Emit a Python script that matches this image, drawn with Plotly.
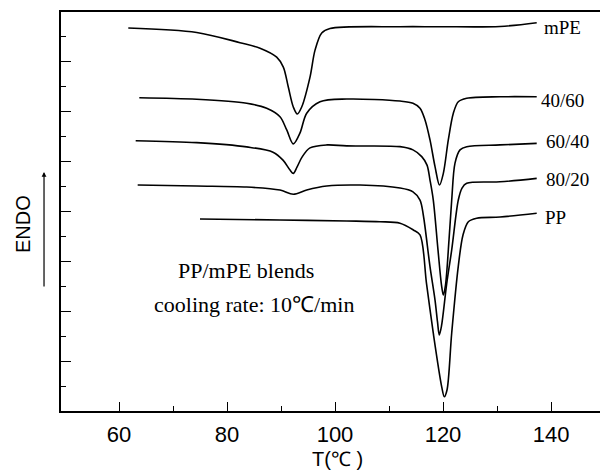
import plotly.graph_objects as go

# DSC cooling curves, T in degC, heat flow in arbitrary (offset) units
mpe_T = [61.72, 74.39, 82.41, 86.11, 89.20, 90.43, 91.35, 92.28, 93.02, 93.83, 95.37, 96.30, 97.54, 99.07, 112.04, 119.44, 130.56, 137.35]
mpe_S = [15.36, 15.18, 14.77, 14.55, 14.19, 13.79, 12.99, 12.19, 11.91, 12.19, 13.39, 14.47, 15.16, 15.34, 15.41, 15.41, 15.42, 15.57]

b4060_T = [63.76, 74.39, 83.65, 87.35, 89.81, 91.06, 92.28, 93.52, 94.76, 97.22, 102.17, 112.04, 114.44, 115.74, 116.67, 117.59, 118.52, 119.35, 120.06, 120.98, 121.91, 122.83, 124.39, 130.56, 137.35]
b4060_S = [12.56, 12.50, 12.34, 12.14, 11.80, 11.27, 10.71, 11.15, 11.94, 12.40, 12.51, 12.43, 12.34, 12.14, 11.67, 10.87, 9.80, 9.06, 9.53, 10.87, 11.94, 12.40, 12.54, 12.60, 12.60]

b6040_T = [63.09, 74.39, 83.65, 88.52, 90.37, 91.67, 92.28, 92.96, 93.89, 95.37, 98.46, 102.17, 112.04, 114.44, 116.06, 117.04, 117.59, 118.20, 119.07, 119.72, 120.06, 120.46, 121.11, 121.61, 122.22, 123.15, 124.39, 130.56, 137.35]
b6040_S = [10.84, 10.76, 10.59, 10.38, 10.06, 9.66, 9.53, 9.78, 10.18, 10.55, 10.67, 10.63, 10.60, 10.47, 10.20, 9.86, 9.26, 8.46, 6.46, 5.05, 4.65, 5.05, 6.86, 8.46, 9.94, 10.47, 10.60, 10.67, 10.73]

b8020_T = [63.46, 74.39, 83.65, 89.81, 92.28, 94.76, 98.46, 104.63, 112.04, 114.44, 115.74, 116.35, 117.59, 118.52, 118.98, 119.31, 119.72, 120.69, 121.61, 122.83, 123.52, 124.39, 130.56, 137.35]
b8020_S = [9.06, 9.02, 8.98, 8.86, 8.69, 8.86, 9.02, 9.06, 8.94, 8.79, 8.46, 7.86, 5.79, 4.45, 3.57, 3.05, 3.41, 5.12, 6.46, 8.46, 8.94, 9.13, 9.19, 9.33]

pp_T = [75.0, 89.81, 102.17, 108.33, 112.04, 114.5, 115.74, 116.94, 118.20, 119.76, 120.24, 120.74, 121.61, 122.83, 123.70, 124.69, 126.24, 130.56, 137.35]
pp_S = [7.70, 7.66, 7.62, 7.59, 7.53, 7.26, 7.06, 5.12, 3.12, 0.97, 0.57, 0.84, 3.13, 5.81, 7.06, 7.59, 7.73, 7.78, 7.93]

curves = [
    ("mPE", mpe_T, mpe_S),
    ("40/60", b4060_T, b4060_S),
    ("60/40", b6040_T, b6040_S),
    ("80/20", b8020_T, b8020_S),
    ("PP", pp_T, pp_S),
]

# label anchor positions (T, S) to the right of each curve
label_names = ["mPE", "40/60", "60/40", "80/20", "PP"]
label_T = [138.3, 137.8, 138.7, 138.7, 138.5]
label_S = [15.36, 12.45, 10.8, 9.28, 7.75]

x_major = [60, 80, 100, 120, 140]
x_minor = [70, 90, 110, 130]
y_major = [2, 4, 6, 8, 10, 12, 14]
y_minor = [1, 3, 5, 7, 9, 11, 13, 15]

fig = go.Figure()
for name, t, s in curves:
    fig.add_trace(go.Scatter(x=t, y=s, mode="lines", name=name,
                             line=dict(color="black", width=1.6, shape="spline", smoothing=0.9),
                             showlegend=False, hoverinfo="skip"))

serif = "Liberation Serif, Times New Roman, serif"
sans = "Liberation Sans, Arial, sans-serif"

annotations = []
for n, t, s in zip(label_names, label_T, label_S):
    annotations.append(dict(x=t, y=s, xref="x", yref="y", text=n, showarrow=False,
                            xanchor="left", yanchor="middle",
                            font=dict(family=serif, size=19, color="black")))
annotations.append(dict(x=83.6, y=5.62, xref="x", yref="y", text="PP/mPE blends", showarrow=False,
                        xanchor="center", yanchor="middle",
                        font=dict(family=serif, size=22, color="black")))
annotations.append(dict(x=85.0, y=4.27, xref="x", yref="y", text="cooling rate: 10℃/min", showarrow=False,
                        xanchor="center", yanchor="middle",
                        font=dict(family=serif, size=22, color="black")))
annotations.append(dict(x=0.5121, y=-0.1203, xref="paper", yref="paper", text="T(℃ )", showarrow=False,
                        xanchor="center", yanchor="middle",
                        font=dict(family=sans, size=20, color="black")))
annotations.append(dict(x=-0.0705, y=0.4687, xref="paper", yref="paper", text="ENDO", showarrow=False,
                        textangle=-90, xanchor="center", yanchor="middle",
                        font=dict(family=sans, size=20, color="black")))
annotations.append(dict(x=-0.0315, y=0.599, xref="paper", yref="paper", text="", showarrow=True,
                        ax=0, ay=116, axref="pixel", ayref="pixel",
                        arrowhead=2, arrowsize=0.8, arrowwidth=1.2, arrowcolor="black"))

fig.update_layout(
    width=600, height=472,
    margin=dict(l=61, r=0, t=12, b=61),
    paper_bgcolor="white", plot_bgcolor="white",
    annotations=annotations,
    xaxis=dict(range=[49.26, 149.07], showgrid=False, zeroline=False,
               showline=True, linecolor="black", linewidth=1.5, mirror=True,
               ticks="inside", tickvals=x_major, ticklen=9, tickwidth=1.3, tickcolor="black",
               minor=dict(tickvals=x_minor, ticks="inside", ticklen=5, tickwidth=1.3, tickcolor="black"),
               tickfont=dict(family=sans, size=22, color="black"), ticklabelstandoff=3),
    yaxis=dict(range=[0, 16], showgrid=False, zeroline=False,
               showline=True, linecolor="black", linewidth=1.5,
               ticks="inside", tickvals=y_major, ticklen=10, tickwidth=1.3, tickcolor="black",
               minor=dict(tickvals=y_minor, ticks="inside", ticklen=5, tickwidth=1.3, tickcolor="black"),
               showticklabels=False),
)

fig.write_html("out.html")
